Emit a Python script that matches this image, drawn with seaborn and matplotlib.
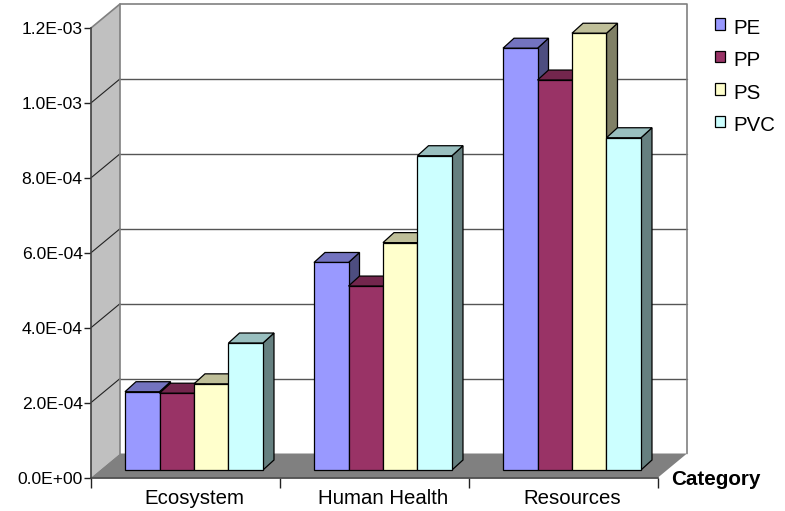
import matplotlib
matplotlib.use("Agg")
import matplotlib.pyplot as plt
import matplotlib.ticker as mticker
from matplotlib.colors import to_rgb
from matplotlib.patches import Polygon
import pandas as pd
import seaborn as sns

# Impact scores per category and polymer
categories = ["Ecosystem", "Human Health", "Resources"]
polymers = ["PE", "PP", "PS", "PVC"]
pe_values = [2.09e-4, 5.54e-4, 1.126e-3]
pp_values = [2.05e-4, 4.91e-4, 1.041e-3]
ps_values = [2.30e-4, 6.07e-4, 1.166e-3]
pvc_values = [3.39e-4, 8.39e-4, 8.87e-4]
y_ticks = [0, 2e-4, 4e-4, 6e-4, 8e-4, 1e-3, 1.2e-3]
palette = ["#9999FF", "#993366", "#FFFFCC", "#CCFFFF"]

df = pd.DataFrame({
    "category": categories * 4,
    "polymer": [p for p in polymers for _ in categories],
    "score": pe_values + pp_values + ps_values + pvc_values,
})

W, H = 785, 511
sns.set_theme(style="white")
plt.rcParams["font.family"] = ["Liberation Sans", "DejaVu Sans"]
fig = plt.figure(figsize=(W / 100, H / 100), dpi=100)
fig.patch.set_facecolor("white")


def axes_at(left, right, top, bottom):
    return fig.add_axes([left / W, 1 - bottom / H, (right - left) / W, (bottom - top) / H])


# Front plane of the box, with the axes and ticks
ax = axes_at(91, 658, 28, 477.5)
ax.set_xlim(-0.5, 2.5)
ax.set_ylim(0, 1.2e-3)
ax.patch.set_alpha(0)

# Pixel lengths expressed in data units for the oblique projection
unit_x = 3 / (658 - 91)
unit_y = 1.2e-3 / (477.5 - 28)
wall_dx, wall_dy = 29 * unit_x, 24 * unit_y
x0, x1 = -0.5, 2.5
y_top = y_ticks[-1]

ax.add_patch(Polygon([(x0, 0), (x0 + wall_dx, wall_dy), (x0 + wall_dx, y_top + wall_dy), (x0, y_top)],
                     closed=True, fc="#C0C0C0", ec="none", clip_on=False, zorder=1))
ax.add_patch(Polygon([(x0, 0), (x1, 0), (x1 + wall_dx, wall_dy), (x0 + wall_dx, wall_dy)],
                     closed=True, fc="#808080", ec="none", clip_on=False, zorder=1))
for v in y_ticks[1:-1]:
    ax.plot([x0, x0 + wall_dx], [v, v + wall_dy], color="#222222", lw=0.8, clip_on=False, zorder=1.2)
    ax.plot([x0 + wall_dx, x1 + wall_dx], [v + wall_dy] * 2, color="#555555", lw=1.0, clip_on=False, zorder=1.2)
ax.plot([x0, x0 + wall_dx, x1 + wall_dx, x1 + wall_dx],
        [y_top, y_top + wall_dy, y_top + wall_dy, wall_dy], color="#808080", lw=1.2, clip_on=False, zorder=1.3)
ax.plot([x0 + wall_dx, x0 + wall_dx], [wall_dy, y_top + wall_dy], color="#808080", lw=1.2, clip_on=False, zorder=1.3)

sns.despine(ax=ax)
for side in ("left", "bottom"):
    ax.spines[side].set_color("#404040")
    ax.spines[side].set_linewidth(1.2)
    ax.spines[side].set_zorder(1.5)

ax.set_yticks(y_ticks)
ax.yaxis.set_major_formatter(mticker.FuncFormatter(lambda v, _: f"{v:.1E}"))
ax.set_xticks([-0.5, 0.5, 1.5, 2.5])
ax.set_xticklabels([])
# Category names are centred under the bars, which sit behind the front plane
ax.set_xticks([i + 8.5 * unit_x for i in range(len(categories))], labels=categories, minor=True)
ax.tick_params(axis="y", left=True, length=5, width=1, color="#222222", labelsize=12.6, pad=1, labelcolor="black")
ax.tick_params(axis="x", which="major", bottom=True, length=7, width=1, color="#222222")
ax.tick_params(axis="x", which="minor", bottom=False, length=0, labelsize=14.7, pad=8.5, labelcolor="black")
ax.set_xlabel("Category", fontsize=14.9, fontweight="bold", color="black")
ax.xaxis.set_label_coords((716 - 91) / (658 - 91), -0.004, transform=ax.transAxes)
ax.xaxis.label.set_va("center")

# Bars sit slightly behind the front plane, on their own transparent axes
ax_bars = axes_at(99.5, 666.5, 20.5, 470)
ax_bars.patch.set_alpha(0)
sns.barplot(data=df, x="category", y="score", hue="polymer", order=categories, hue_order=polymers,
            palette=palette, saturation=1, width=0.73, gap=0, ax=ax_bars, linewidth=0.9, edgecolor="black")
ax_bars.set_xlim(-0.5, 2.5)
ax_bars.set_ylim(0, 1.2e-3)
handles, labels = ax_bars.get_legend_handles_labels()
ax_bars.get_legend().remove()
ax_bars.axis("off")

depth_dx, depth_dy = 11 * unit_x, 10 * unit_y


def shade(color, factor):
    return tuple(c * factor for c in to_rgb(color))


for order, (container, color) in enumerate(zip(ax_bars.containers, palette)):
    for bar in container:
        left, right = bar.get_x(), bar.get_x() + bar.get_width()
        top = bar.get_height()
        side = Polygon([(right, 0), (right + depth_dx, depth_dy), (right + depth_dx, top + depth_dy), (right, top)],
                       closed=True, fc=shade(color, 0.5), ec="black", lw=0.9, clip_on=False, zorder=2 + order)
        lid = Polygon([(left, top), (right, top), (right + depth_dx, top + depth_dy), (left + depth_dx, top + depth_dy)],
                      closed=True, fc=shade(color, 0.75), ec="black", lw=0.9, clip_on=False, zorder=2 + order)
        ax_bars.add_patch(side)
        ax_bars.add_patch(lid)
        bar.set_zorder(2.5 + order)
        bar.set_clip_on(False)

legend = fig.legend(handles, labels, loc="upper left", bbox_to_anchor=(715 / W, 1 - 19 / H), frameon=False,
                    fontsize=14.7, labelcolor="black", handlelength=0.48, handleheight=0.48, handletextpad=0.42,
                    labelspacing=0.66, borderpad=0, borderaxespad=0)
for swatch in legend.get_patches():
    swatch.set_y(swatch.get_y() + 2)

fig.savefig("out.png", dpi=100)
